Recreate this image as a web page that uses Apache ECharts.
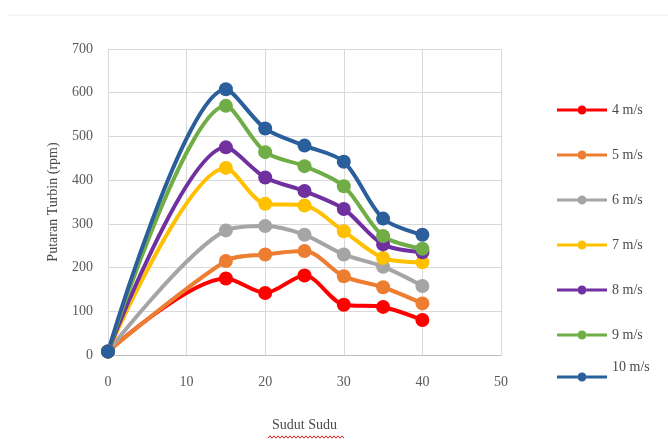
<!DOCTYPE html>
<html>
<head>
<meta charset="utf-8">
<script src="https://cdn.jsdelivr.net/npm/echarts@6/dist/echarts.min.js"></script>
<style>
  html, body { margin: 0; padding: 0; background: #fff; }
  #chart { width: 668px; height: 447px; }
</style>
</head>
<body>
<div id="chart"></div>
<script>
// Blade angle (degrees) against turbine speed (rpm) for each wind speed
const sudut = [0, 15, 20, 25, 30, 35, 40];
const seriesNames = ['4 m/s', '5 m/s', '6 m/s', '7 m/s', '8 m/s', '9 m/s', '10 m/s'];
const v4  = [8, 175, 142, 182, 115, 110, 80];
const v5  = [8, 215, 230, 238, 180, 155, 118];
const v6  = [8, 285, 295, 275, 230, 202, 158];
const v7  = [8, 428, 346, 342, 283, 222, 212];
const v8  = [8, 475, 406, 375, 334, 253, 235];
const v9  = [8, 570, 464, 432, 386, 272, 243];
const v10 = [8, 608, 518, 479, 442, 312, 275];
const seriesValues = [v4, v5, v6, v7, v8, v9, v10];
const colors = ['#ff0000', '#ed7d31', '#a5a5a5', '#ffc000', '#7030a0', '#70ad47', '#2b5f9c'];
const xTicks = { min: 0, max: 50, interval: 10 };
const yTicks = { min: 0, max: 700, interval: 100 };

const chart = echarts.init(document.getElementById('chart'), null, { renderer: 'canvas' });

const font = '"Liberation Serif", "Times New Roman", serif';
const grid = { left: 108, right: 167, top: 49, bottom: 92 };

// wavy spell-check underline under the x axis title
const squiggle = [];
for (let x = 268, i = 0; x <= 344; x += 2, i++) {
  squiggle.push([x, 437 + (i % 2 ? -1.2 : 1.2)]);
}

// legend key: line segment with a small round marker in the middle
const legendIcon = 'path://M0,3.4 L20.5,3.4 L20.5,6.6 L0,6.6 Z ' +
  'M29.5,3.4 L50,3.4 L50,6.6 L29.5,6.6 Z ' +
  'M20.5,5 A4.5,4.5 0 1,1 29.5,5 A4.5,4.5 0 1,1 20.5,5 Z';

const legendBase = {
  orient: 'vertical',
  left: 552,
  itemWidth: 50,
  itemHeight: 9,
  itemGap: 31,
  icon: legendIcon,
  textStyle: { fontFamily: font, fontSize: 14, color: '#4a4a4a' }
};

const option = {
  backgroundColor: '#ffffff',
  animation: false,
  color: colors,
  grid: grid,
  legend: [
    Object.assign({}, legendBase, {
      top: 98,
      data: seriesNames.slice(0, 6)
    }),
    // last entry: label sits a little above its line
    Object.assign({}, legendBase, {
      top: 355,
      data: seriesNames.slice(6),
      formatter: name => '{a|' + name + '}\n{b| }',
      textStyle: {
        fontFamily: font, fontSize: 14, color: '#4a4a4a',
        rich: {
          a: { fontFamily: font, fontSize: 14, color: '#4a4a4a', lineHeight: 16 },
          b: { fontSize: 10, lineHeight: 20 }
        }
      }
    })
  ],
  xAxis: {
    type: 'value',
    min: xTicks.min, max: xTicks.max, interval: xTicks.interval,
    name: 'Sudut Sudu',
    nameLocation: 'middle',
    nameGap: 63,
    nameTextStyle: { fontFamily: font, fontSize: 14, color: '#4a4a4a' },
    axisLine: { show: true, lineStyle: { color: '#bfbfbf', width: 1 } },
    axisTick: { show: false },
    axisLabel: { fontFamily: font, fontSize: 14, color: '#595959', margin: 20 },
    splitLine: { show: true, lineStyle: { color: '#d9d9d9', width: 1 } }
  },
  yAxis: {
    type: 'value',
    min: yTicks.min, max: yTicks.max, interval: yTicks.interval,
    name: 'Putaran Turbin (rpm)',
    nameLocation: 'middle',
    nameGap: 48,
    nameRotate: 90,
    nameTextStyle: { fontFamily: font, fontSize: 14, color: '#4a4a4a' },
    axisLine: { show: false },
    axisTick: { show: false },
    axisLabel: { fontFamily: font, fontSize: 14, color: '#595959', margin: 15 },
    splitLine: { show: true, lineStyle: { color: '#d9d9d9', width: 1 } }
  },
  graphic: [
    {
      type: 'line',
      shape: { x1: 8, y1: 15, x2: 668, y2: 15 },
      style: { stroke: '#ececec', lineWidth: 1 },
      silent: true
    },
    {
      type: 'polyline',
      shape: { points: squiggle },
      style: { stroke: '#e02020', lineWidth: 1, fill: null },
      silent: true
    }
  ],
  series: seriesNames.map((name, i) => ({
    name: name,
    type: 'line',
    smooth: 0.3,
    symbol: 'circle',
    symbolSize: 14,
    lineStyle: { width: 4, color: colors[i] },
    itemStyle: { color: colors[i] },
    data: sudut.map((x, j) => [x, seriesValues[i][j]])
  }))
};

chart.setOption(option);
</script>
</body>
</html>
